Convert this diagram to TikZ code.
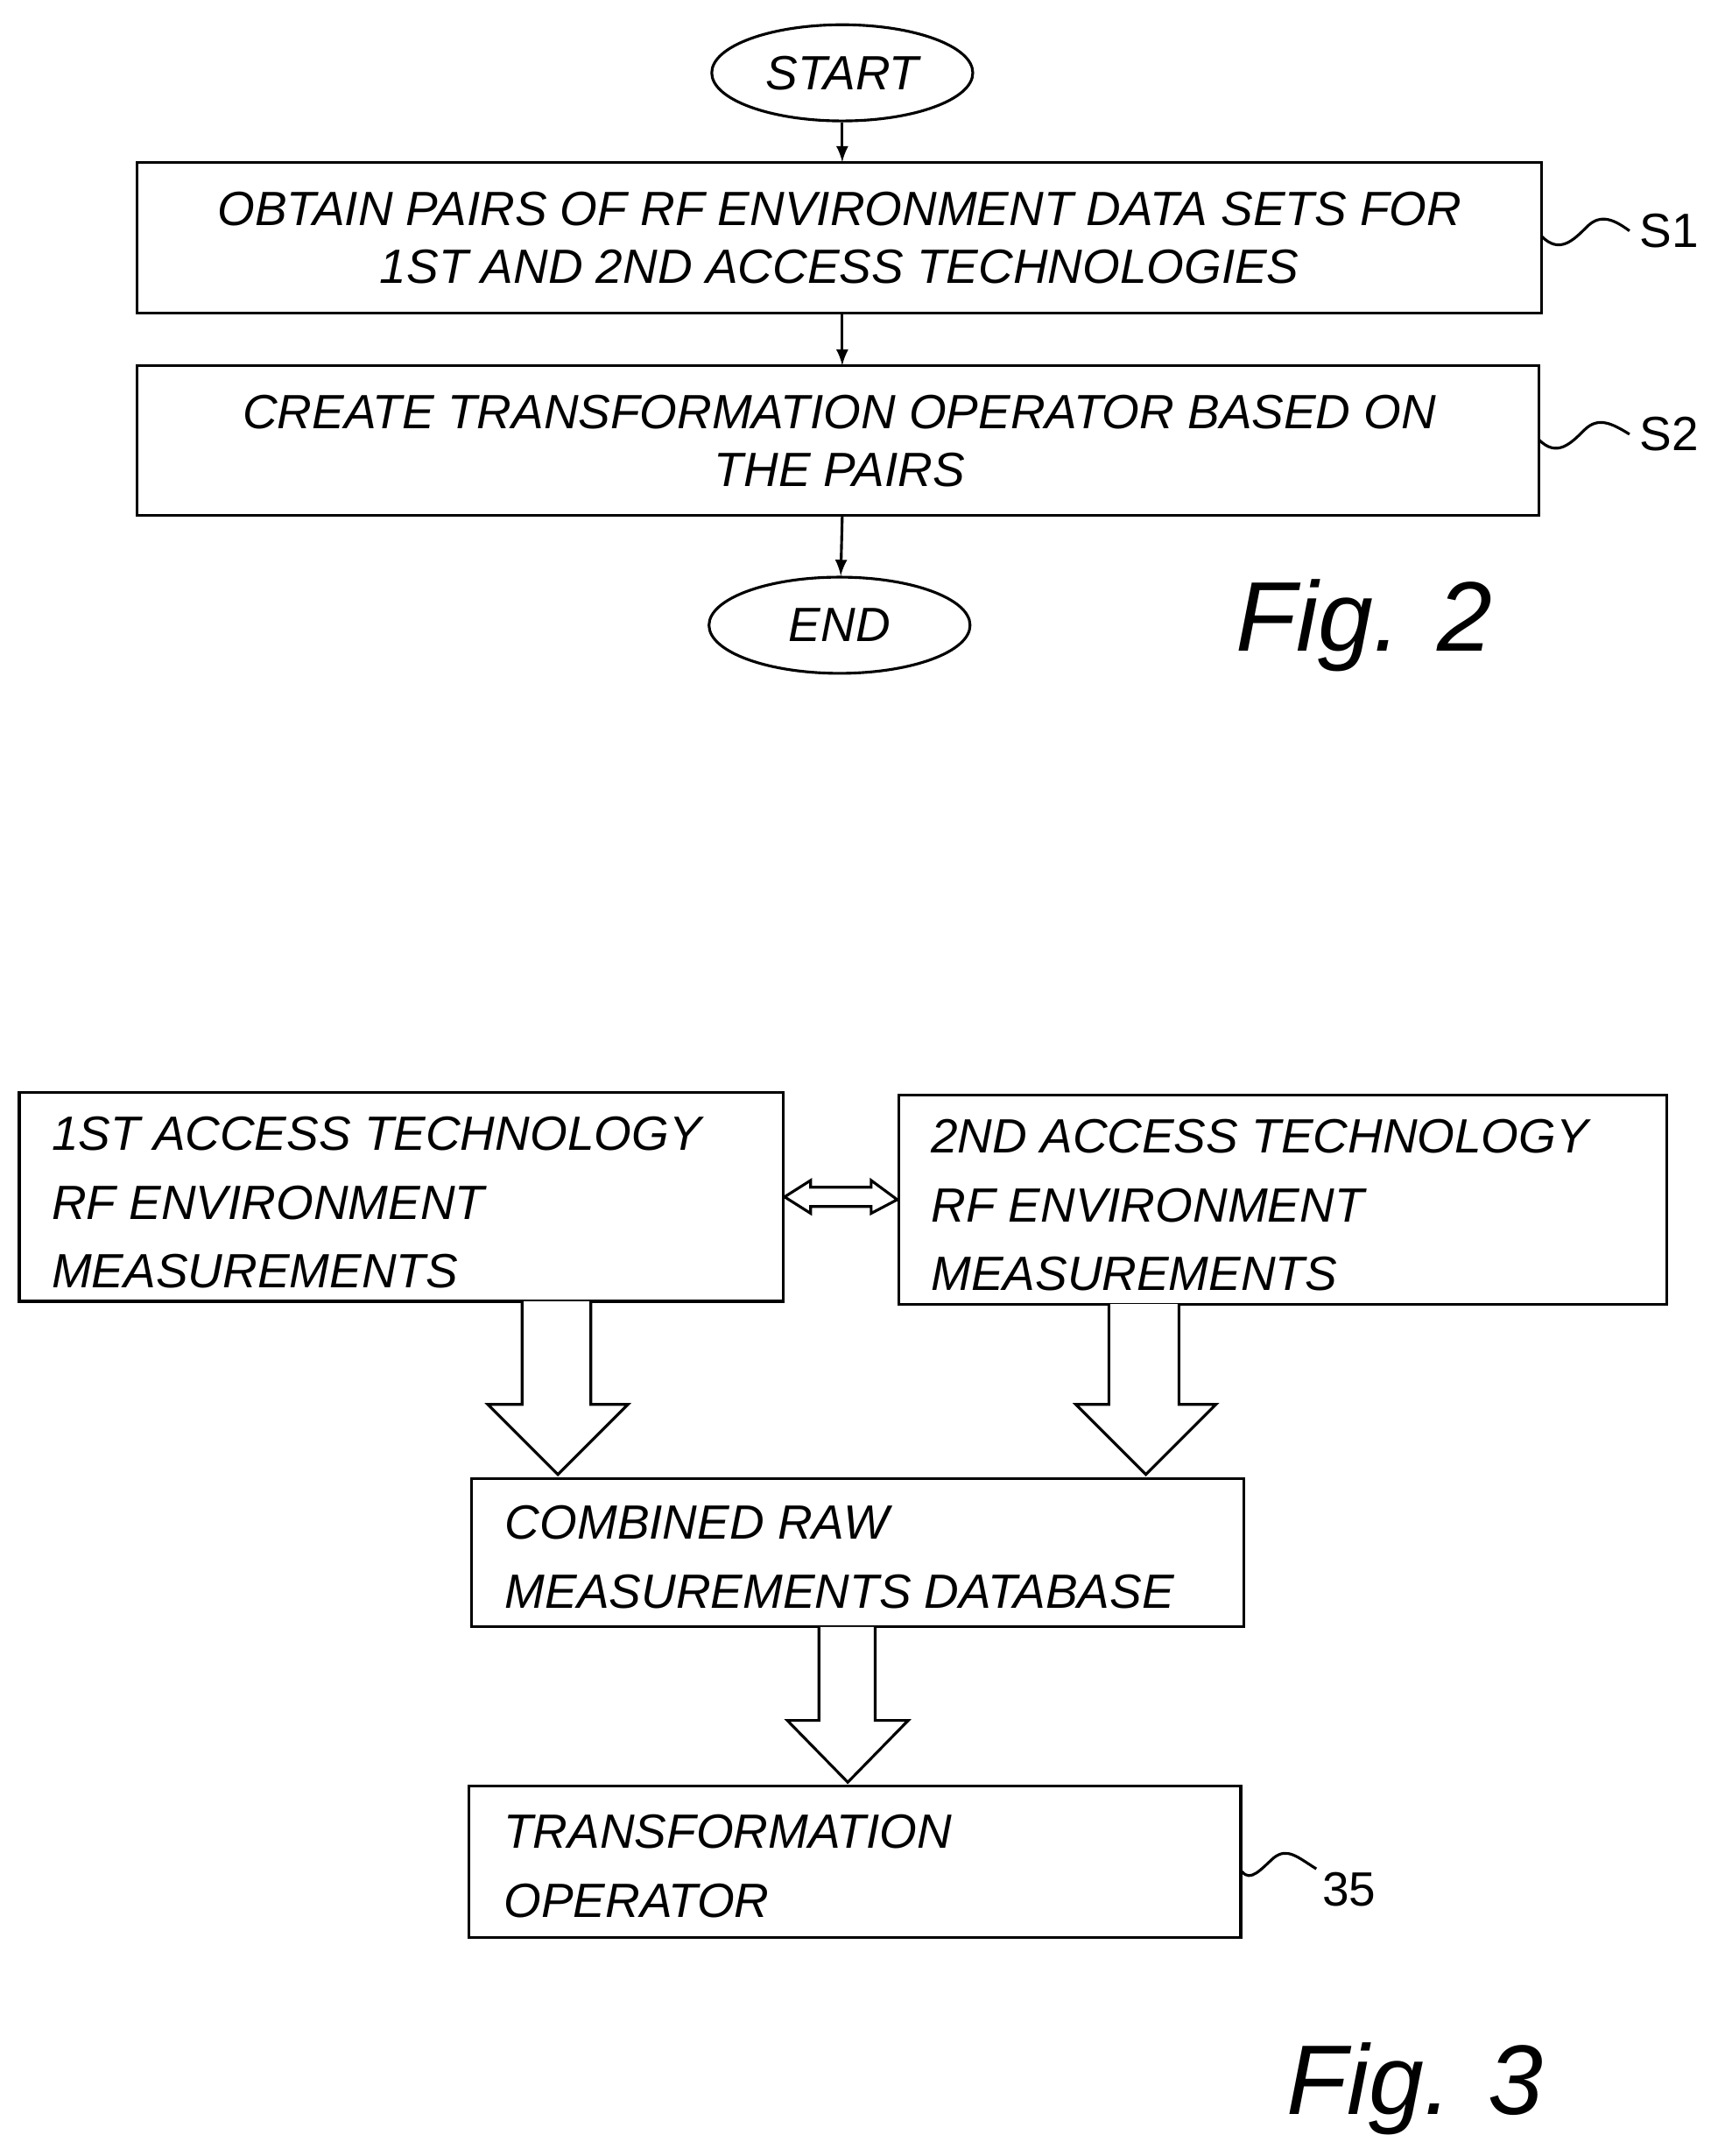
\documentclass[tikz,border=0pt]{standalone}
\usepackage{fontspec}
\setmainfont{Liberation Sans}
\usetikzlibrary{shapes.geometric}
\begin{document}
\begin{tikzpicture}[x=0.5pt,y=-0.5pt,line width=1pt,
  txt/.style={font=\fontsize{17.5}{22}\selectfont\itshape},
  box/.style={draw,txt,inner sep=0pt},
  term/.style={draw,ellipse,txt,minimum width=95pt,minimum height=35pt,inner sep=0pt},
  lab/.style={font=\fontsize{17.5}{22}\selectfont},
  fig/.style={font=\fontsize{36}{40}\selectfont\itshape},
  blk/.style={draw,fill=white,line width=1pt}]
\useasboundingbox (0,0) rectangle (1250,1569);
% Fig 2
\node[term] (start) at (613,53) {START};
\draw (100,118) rectangle (1122,228);
\node[txt,align=center] (s1) at (611,173) {OBTAIN PAIRS OF RF ENVIRONMENT DATA SETS FOR\\[-1pt]1ST AND 2ND ACCESS TECHNOLOGIES};
\coordinate (s1t) at (613,118); \coordinate (s1b) at (613,228); \coordinate (s1r) at (1122,172);
\draw (100,266) rectangle (1120,375);
\node[txt,align=center] (s2) at (611,321) {CREATE TRANSFORMATION OPERATOR BASED ON\\[-1pt]THE PAIRS};
\coordinate (s2t) at (613,266); \coordinate (s2b) at (613,375); \coordinate (s2r) at (1120,320);
\node[term] (end) at (611,455) {END};
\draw[-latex] (start) -- (s1t);
\draw[-latex] (s1b) -- (s2t);
\draw[-latex] (s2b) -- (end);
\node[lab] (l1) at (1215,168) {S1};
\node[lab] (l2) at (1215,316) {S2};
\draw (s1r) .. controls (1135,185) and (1145,175) .. (1155,165) .. controls (1165,155) and (1175,160) .. (l1.west);
\draw (s2r) .. controls (1133,333) and (1143,323) .. (1153,313) .. controls (1163,303) and (1173,308) .. (l2.west);
\node[fig] (f2) at (993,455) {Fig. 2};
% Fig 3
\node[box,minimum width=278pt,minimum height=76pt] (a) at (292,871) {};
\node[txt,align=left,anchor=north west] at (30,805) {1ST ACCESS TECHNOLOGY\\[3pt]RF ENVIRONMENT\\[3pt]MEASUREMENTS};
\node[box,minimum width=279.5pt,minimum height=76pt] (b) at (933.5,873) {};
\node[txt,align=left,anchor=north west] at (670,807) {2ND ACCESS TECHNOLOGY\\[3pt]RF ENVIRONMENT\\[3pt]MEASUREMENTS};
\node[box,minimum width=281pt,minimum height=54pt] (c) at (624,1130) {};
\node[txt,align=left,anchor=north west] at (360,1088) {COMBINED RAW\\[3pt]MEASUREMENTS DATABASE};
\node[box,minimum width=281pt,minimum height=55pt] (d) at (622,1355) {};
\node[txt,align=left,anchor=north west] at (359,1313) {TRANSFORMATION\\[3pt]OPERATOR};
% double arrow
\draw[blk] (a.east) ++(0,0) -- (590,859) -- (590,864) -- (634,864) -- (634,859) -- (b.west) -- (634,883) -- (634,878) -- (590,878) -- (590,883) -- cycle;
% block arrows
\draw[blk] (380,947) -- (380,1022) -- (355,1022) -- (406,1073) -- (457,1022) -- (430,1022) -- (430,947);
\draw[blk] (807,949) -- (807,1022) -- (783,1022) -- (834,1073) -- (885,1022) -- (858,1022) -- (858,949);
\draw[blk] (596,1184) -- (596,1252) -- (573,1252) -- (617,1297) -- (661,1252) -- (637,1252) -- (637,1184);
\node[lab] (l35) at (982,1375) {35};
\draw (d.east |- 0,1362) .. controls (910,1370) and (918,1360) .. (927,1352) .. controls (937,1344) and (945,1352) .. (958,1360);
\node[fig] (f3) at (1030,1520) {Fig. 3};
\end{tikzpicture}
\end{document}
